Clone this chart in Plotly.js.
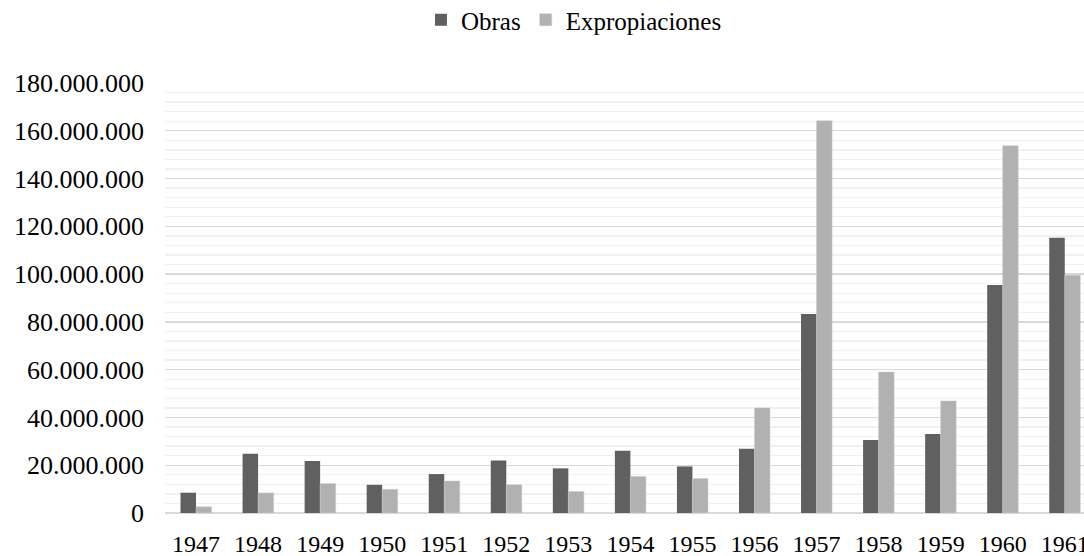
<!DOCTYPE html>
<html>
<head>
<meta charset="utf-8">
<script src="https://cdn.plot.ly/plotly-3.0.1.min.js"></script>
<style>html,body{margin:0;padding:0;background:#fff;}#chart{width:1084px;height:556px;}</style>
</head>
<body>
<div id="chart"></div>
<script>
const years = ['1947','1948','1949','1950','1951','1952','1953','1954','1955','1956','1957','1958','1959','1960','1961'];
const obras = [8.5e6, 24.8e6, 21.8e6, 11.8e6, 16.3e6, 22.0e6, 18.7e6, 26.1e6, 19.5e6, 26.9e6, 83.3e6, 30.6e6, 33.1e6, 95.4e6, 115.2e6];
const expropiaciones = [2.6e6, 8.4e6, 12.3e6, 9.9e6, 13.4e6, 11.8e6, 9.0e6, 15.3e6, 14.4e6, 44.0e6, 164.2e6, 59.0e6, 46.9e6, 153.7e6, 99.5e6];
const yTicks = [0, 20e6, 40e6, 60e6, 80e6, 100e6, 120e6, 140e6, 160e6, 180e6];

const font = 'Liberation Serif';
const traces = [
  {type:'bar', name:'Obras', x:years, y:obras, marker:{color:'#606060'}, hoverinfo:'x+y'},
  {type:'bar', name:'Expropiaciones', x:years, y:expropiaciones, marker:{color:'#b1b1b1', line:{color:'#c8c8c8', width:0.5}}, hoverinfo:'x+y'}
];
const layout = {
  width:1084, height:556,
  margin:{l:165, r:0, t:83, b:43, pad:0, autoexpand:false},
  paper_bgcolor:'#ffffff', plot_bgcolor:'#ffffff',
  separators:',.',
  barmode:'group', bargap:0.5, bargroupgap:0,
  font:{family:font, color:'#000000', size:25},
  showlegend:true,
  legend:{orientation:'h', x:0.445, xanchor:'center', y:1.2, yanchor:'top',
          font:{family:font, size:25, color:'#000'}, itemwidth:30, tracegroupgap:0},
  xaxis:{type:'category', range:[-0.5, 14.31], showgrid:false, showline:false, zeroline:false,
         ticks:'', tickfont:{family:font, size:24, color:'#000'}, ticklabelstandoff:14, fixedrange:true},
  yaxis:{range:[0, 180e6], tickvals:yTicks, tickformat:',d', showgrid:true, gridcolor:'#d9d9d9', gridwidth:1.3,
         zeroline:true, zerolinecolor:'#d9d9d9', zerolinewidth:1.5, showline:false, ticks:'',
         tickfont:{family:font, size:26, color:'#000'}, ticklabelstandoff:20,
         minor:{dtick:4e6, showgrid:true, gridcolor:'#f1f1f1', gridwidth:1.3}, fixedrange:true}
};
Plotly.newPlot('chart', traces, layout, {displayModeBar:false, staticPlot:true});
</script>
</body>
</html>
